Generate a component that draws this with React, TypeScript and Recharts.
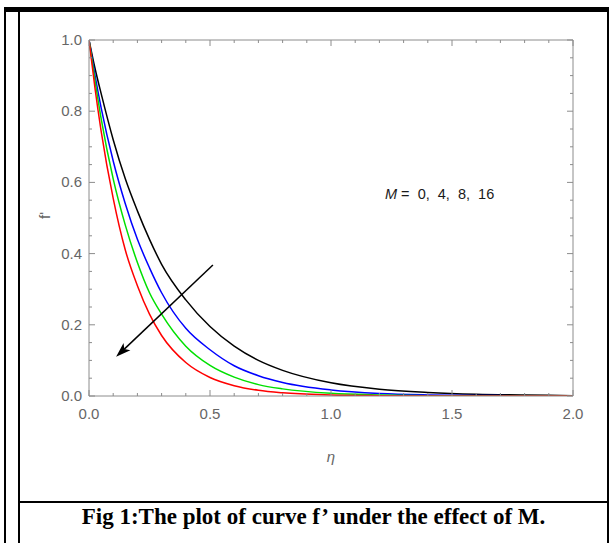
import React from 'react';
import { LineChart, Line, XAxis, YAxis, ReferenceLine } from 'recharts';

// eta grid and f' profiles (M = 0, 4, 8, 16)
const eta = [0, 0.025, 0.05, 0.1, 0.15, 0.2, 0.25, 0.3, 0.4, 0.5, 0.6, 0.7, 0.8, 1.0, 1.2, 1.4, 1.6, 1.8, 2.0];
const fM0 = [1, 0.92, 0.85, 0.72, 0.61, 0.52, 0.44, 0.37, 0.27, 0.195, 0.14, 0.1, 0.072, 0.037, 0.019, 0.01, 0.005, 0.003, 0.001];
const fM4 = [1, 0.9, 0.81, 0.66, 0.54, 0.44, 0.36, 0.29, 0.19, 0.13, 0.085, 0.057, 0.038, 0.017, 0.007, 0.003, 0.0015, 0.0007, 0.0003];
const fM8 = [1, 0.885, 0.78, 0.61, 0.48, 0.375, 0.29, 0.23, 0.14, 0.086, 0.053, 0.032, 0.02, 0.0075, 0.003, 0.001, 0.0004, 0.0002, 0.0001];
const fM16 = [1, 0.863, 0.745, 0.555, 0.41, 0.31, 0.23, 0.17, 0.094, 0.052, 0.029, 0.016, 0.009, 0.003, 0.001, 0.0003, 0.0001, 0, 0];

const xTicks = [0, 0.1, 0.2, 0.3, 0.4, 0.5, 0.6, 0.7, 0.8, 0.9, 1.0, 1.1, 1.2, 1.3, 1.4, 1.5, 1.6, 1.7, 1.8, 1.9, 2.0];
const yTicks = [0, 0.05, 0.1, 0.15, 0.2, 0.25, 0.3, 0.35, 0.4, 0.45, 0.5, 0.55, 0.6, 0.65, 0.7, 0.75, 0.8, 0.85, 0.9, 0.95, 1.0];

// arrow annotation (data coords): tail -> head
const arrowFrom = { x: 0.512, y: 0.368 };
const arrowTo = { x: 0.112, y: 0.11 };

const data = eta.map((e, i) => ({ eta: e, m0: fM0[i], m4: fM4[i], m8: fM8[i], m16: fM16[i] }));

const FRAME = '#8c8c8c';
const LABEL = '#666';
const SANS = '"Liberation Sans", Arial, sans-serif';

function isMajor(v: number, step: number) {
  const r = v / step;
  return Math.abs(r - Math.round(r)) < 1e-6;
}

function makeTick(side: 'bottom' | 'top' | 'left' | 'right') {
  return (props: any) => {
    const { x, y, payload } = props;
    const v = payload.value as number;
    const horiz = side === 'bottom' || side === 'top';
    const major = horiz ? isMajor(v, 0.5) : isMajor(v, 0.2);
    const len = major ? 6 : 3;
    let ln;
    if (side === 'bottom') ln = <line x1={x} y1={y} x2={x} y2={y - len} />;
    else if (side === 'top') ln = <line x1={x} y1={y} x2={x} y2={y + len} />;
    else if (side === 'left') ln = <line x1={x} y1={y} x2={x + len} y2={y} />;
    else ln = <line x1={x} y1={y} x2={x - len} y2={y} />;
    return (
      <g stroke={FRAME} strokeWidth={1}>
        {ln}
        {major && side === 'bottom' && (
          <text x={x} y={y + 23} textAnchor="middle" fill={LABEL} stroke="none" fontSize={15} fontFamily={SANS}>
            {v.toFixed(1)}
          </text>
        )}
        {major && side === 'left' && (
          <text x={x - 7} y={y + 5} textAnchor="end" fill={LABEL} stroke="none" fontSize={15} fontFamily={SANS}>
            {v.toFixed(1)}
          </text>
        )}
      </g>
    );
  };
}

const Arrow = (props: any) => {
  const { x1, y1, x2, y2 } = props;
  const dx = x2 - x1;
  const dy = y2 - y1;
  const L = Math.hypot(dx, dy);
  const ux = dx / L;
  const uy = dy / L;
  const px = -uy;
  const py = ux;
  const head = 15;
  const half = 5;
  const bx = x2 - ux * head;
  const by = y2 - uy * head;
  const nx = x2 - ux * head * 0.75;
  const ny = y2 - uy * head * 0.75;
  return (
    <g>
      <line x1={x1} y1={y1} x2={nx} y2={ny} stroke="#000" strokeWidth={1.5} />
      <polygon
        points={`${x2},${y2} ${bx + px * half},${by + py * half} ${nx},${ny} ${bx - px * half},${by - py * half}`}
        fill="#000"
      />
    </g>
  );
};

const border: React.CSSProperties = { position: 'absolute', background: '#000' };

export default function App() {
  return (
    <div style={{ position: 'absolute', left: 0, top: 0, width: 616, height: 543, background: '#fff', overflow: 'hidden' }}>
      <LineChart
        width={616}
        height={543}
        data={data}
        margin={{ top: 30, right: 33, bottom: 117, left: 59 }}
      >
        <XAxis
          xAxisId="b"
          dataKey="eta"
          type="number"
          domain={[0, 2]}
          ticks={xTicks}
          interval={0}
          height={30}
          tickSize={0}
          tickMargin={0}
          tickLine={false}
          axisLine={{ stroke: FRAME }}
          tick={makeTick('bottom')}
          allowDataOverflow
        />
        <XAxis
          xAxisId="t"
          dataKey="eta"
          orientation="top"
          type="number"
          domain={[0, 2]}
          ticks={xTicks}
          interval={0}
          height={10}
          tickSize={0}
          tickMargin={0}
          tickLine={false}
          axisLine={{ stroke: FRAME }}
          tick={makeTick('top')}
          allowDataOverflow
        />
        <YAxis
          yAxisId="l"
          type="number"
          domain={[0, 1]}
          ticks={yTicks}
          interval={0}
          width={30}
          tickSize={0}
          tickMargin={0}
          tickLine={false}
          axisLine={{ stroke: FRAME }}
          tick={makeTick('left')}
          allowDataOverflow
        />
        <YAxis
          yAxisId="r"
          orientation="right"
          type="number"
          domain={[0, 1]}
          ticks={yTicks}
          interval={0}
          width={10}
          tickSize={0}
          tickMargin={0}
          tickLine={false}
          axisLine={{ stroke: FRAME }}
          tick={makeTick('right')}
          allowDataOverflow
        />
        <Line xAxisId="b" yAxisId="l" type="monotone" dataKey="m0" stroke="#000000" strokeWidth={1.5} dot={false} isAnimationActive={false} />
        <Line xAxisId="b" yAxisId="l" type="monotone" dataKey="m4" stroke="#0000ff" strokeWidth={1.5} dot={false} isAnimationActive={false} />
        <Line xAxisId="b" yAxisId="l" type="monotone" dataKey="m8" stroke="#00e000" strokeWidth={1.5} dot={false} isAnimationActive={false} />
        <Line xAxisId="b" yAxisId="l" type="monotone" dataKey="m16" stroke="#ff0000" strokeWidth={1.5} dot={false} isAnimationActive={false} />
        <ReferenceLine
          xAxisId="b"
          yAxisId="l"
          segment={[arrowFrom, arrowTo]}
          shape={Arrow}
          ifOverflow="visible"
        />
      </LineChart>

      {/* axis labels and annotation */}
      <div style={{ position: 'absolute', left: 311, top: 448, width: 40, textAlign: 'center', fontFamily: SANS, fontSize: 15, fontStyle: 'italic', color: LABEL }}>η</div>
      <div style={{ position: 'absolute', left: 24, top: 207, width: 40, textAlign: 'center', fontFamily: SANS, fontSize: 15, color: LABEL, transform: 'rotate(-90deg)' }}>f'</div>
      <div style={{ position: 'absolute', left: 385, top: 186, fontFamily: SANS, fontSize: 14.5, color: '#1a1a1a', whiteSpace: 'pre' }}>
        <i>M</i>{' =  0,  4,  8,  16'}
      </div>

      {/* figure frame */}
      <div style={{ ...border, left: 4, top: 7, width: 605, height: 5 }} />
      <div style={{ ...border, left: 4, top: 7, width: 2, height: 536 }} />
      <div style={{ ...border, left: 18, top: 7, width: 2, height: 536 }} />
      <div style={{ ...border, left: 607, top: 7, width: 2, height: 536 }} />
      <div style={{ ...border, left: 18, top: 501, width: 591, height: 2 }} />

      <div style={{ position: 'absolute', left: 20, top: 504, width: 587, textAlign: 'center', fontFamily: '"Liberation Serif", "Times New Roman", serif', fontWeight: 'bold', fontSize: 23, color: '#000' }}>
        Fig 1:The plot of curve f’ under the effect of M.
      </div>
    </div>
  );
}
